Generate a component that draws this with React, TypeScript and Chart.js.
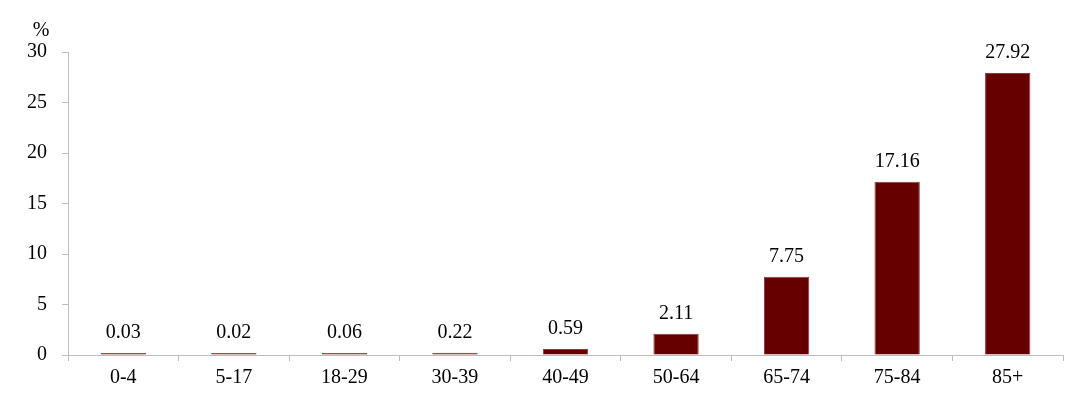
import React, { useEffect, useRef } from "react";
import { Chart, registerables } from "chart.js";

Chart.register(...registerables);

const categories = ["0-4", "5-17", "18-29", "30-39", "40-49", "50-64", "65-74", "75-84", "85+"];
const values = [0.03, 0.02, 0.06, 0.22, 0.59, 2.11, 7.75, 17.16, 27.92];
const valueLabels = ["0.03", "0.02", "0.06", "0.22", "0.59", "2.11", "7.75", "17.16", "27.92"];
const yTicks = [0, 5, 10, 15, 20, 25, 30];
const unitLabel = "%";

const FONT = "'Liberation Serif', 'Times New Roman', serif";
const FS = 20;

export default function App() {
  const ref = useRef<HTMLCanvasElement | null>(null);
  useEffect(() => {
    document.body.style.margin = "0";
    const canvas = ref.current;
    if (!canvas) return;
    const labelPlugin = {
      id: "labels",
      afterDatasetsDraw(chart: any) {
        const ctx = chart.ctx;
        const meta = chart.getDatasetMeta(0);
        ctx.save();
        ctx.font = `${FS}px ${FONT}`;
        ctx.fillStyle = "#000";
        ctx.textAlign = "center";
        ctx.textBaseline = "alphabetic";
        meta.data.forEach((bar: any, i: number) => {
          ctx.fillText(valueLabels[i], bar.x, bar.y - 15);
        });
        const ys = chart.scales.y;
        ctx.fillText(unitLabel, 41, ys.getPixelForValue(30) - 16);
        ctx.restore();
      },
    };
    const chart = new Chart(canvas, {
      type: "bar",
      data: {
        labels: categories,
        datasets: [
          {
            data: values,
            backgroundColor: "#660000",
            borderColor: "#8a3b3b",
            borderWidth: 1,
            minBarLength: 2,
            barPercentage: 0.41,
            categoryPercentage: 1,
          },
        ],
      },
      options: {
        animation: false,
        responsive: false,
        devicePixelRatio: 1,
        layout: { padding: { top: 52, right: 17, left: 0, bottom: 0 } },
        plugins: { legend: { display: false }, tooltip: { enabled: false } },
        scales: {
          x: {
            grid: {
              drawOnChartArea: false,
              drawTicks: true,
              tickLength: 6,
              color: "#bdbdbd",
              offset: true,
            },
            border: { color: "#bdbdbd", width: 1 },
            ticks: {
              color: "#000",
              font: { family: FONT, size: FS },
              padding: 5,
              maxRotation: 0,
            },
            afterFit: (s: any) => {
              s.height = 39;
            },
          },
          y: {
            min: 0,
            max: 30,
            grid: {
              drawOnChartArea: false,
              drawTicks: true,
              tickLength: 6,
              color: "#bdbdbd",
            },
            border: { color: "#bdbdbd", width: 1 },
            afterBuildTicks: (s: any) => {
              s.ticks = yTicks.map((v) => ({ value: v }));
            },
            ticks: {
              color: "#000",
              font: { family: FONT, size: FS },
              padding: 15,
            },
            afterFit: (s: any) => {
              s.width = 68;
            },
          },
        },
      },
      plugins: [labelPlugin],
    });
    return () => chart.destroy();
  }, []);
  return (
    <div style={{ position: "absolute", left: 0, top: 0, width: 1080, height: 394 }}>
      <canvas ref={ref} width={1080} height={394} style={{ display: "block", background: "#fff" }} />
    </div>
  );
}
